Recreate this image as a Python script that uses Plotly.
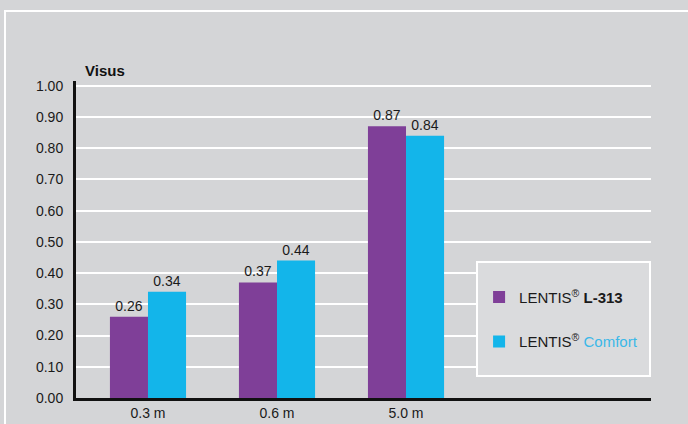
import plotly.graph_objects as go

categories = ["0.3 m", "0.6 m", "5.0 m"]
l313_values = [0.26, 0.37, 0.87]
comfort_values = [0.34, 0.44, 0.84]
ytick_vals = [0.0, 0.1, 0.2, 0.3, 0.4, 0.5, 0.6, 0.7, 0.8, 0.9, 1.0]
ytick_text = ["0.00", "0.10", "0.20", "0.30", "0.40", "0.50", "0.60", "0.70", "0.80", "0.90", "1.00"]

FONT = "Liberation Sans Narrow, Arial Narrow, Liberation Sans, sans-serif"
PURPLE = "#7f3f98"
CYAN = "#13b5ea"
BG = "#d4d5d7"

fig = go.Figure()
fig.add_trace(go.Bar(
    x=categories, y=l313_values, name="LENTIS<sup>®</sup> <b>L-313</b>",
    marker=dict(color=PURPLE, line=dict(width=0)),
    texttemplate="%{y:.2f}", textposition="outside",
    textfont=dict(family=FONT, size=14, color="#1a1a1a"),
    legendgroup="a", cliponaxis=False,
))
fig.add_trace(go.Bar(
    x=categories, y=comfort_values,
    name="LENTIS<sup>®</sup> <span style='color:#3bb8e8;font-weight:300'>Comfort</span>",
    marker=dict(color=CYAN, line=dict(width=0)),
    texttemplate="%{y:.2f}", textposition="outside",
    textfont=dict(family=FONT, size=14, color="#1a1a1a"),
    legendgroup="b", cliponaxis=False,
))

fig.update_layout(
    width=688, height=424,
    margin=dict(l=76, r=37, t=81, b=26, pad=0, autoexpand=False),
    paper_bgcolor=BG, plot_bgcolor=BG,
    font=dict(family=FONT, size=14, color="#1a1a1a"),
    barmode="group", bargap=0.41, bargroupgap=0,
    showlegend=True,
    legend=dict(
        x=0.701, y=0.37, xanchor="left", yanchor="top",
        bgcolor="rgba(0,0,0,0)", borderwidth=0,
        font=dict(family=FONT, size=15, color="#1a1a1a"),
        tracegroupgap=22, traceorder="grouped",
    ),
    xaxis=dict(
        type="category", range=[-0.558, 3.899], automargin=False,
        showgrid=False, showline=True, linecolor="#111111", linewidth=3,
        ticks="", tickfont=dict(family=FONT, size=14, color="#1a1a1a"),
        zeroline=False,
    ),
    yaxis=dict(
        range=[0, 1.015], tickvals=ytick_vals, ticktext=ytick_text, automargin=False,
        showgrid=True, gridcolor="#ffffff", gridwidth=2,
        showline=True, linecolor="#111111", linewidth=3,
        ticks="", ticklabelstandoff=7,
        tickfont=dict(family=FONT, size=14, color="#1a1a1a"),
        zeroline=False,
    ),
    shapes=[
        # outer white frame
        dict(type="rect", xref="paper", yref="paper",
             x0=(5 - 76) / 575, x1=(700 - 76) / 575,
             y0=(398 - 440) / 317, y1=(398 - 11) / 317,
             line=dict(color="#ffffff", width=2), fillcolor="rgba(0,0,0,0)", layer="below"),
        # legend box
        dict(type="rect", xref="paper", yref="paper",
             x0=(477 - 76) / 575, x1=(650 - 76) / 575,
             y0=(398 - 376) / 317, y1=(398 - 262) / 317,
             line=dict(color="#ffffff", width=2), fillcolor="#dadbdd", layer="above"),
    ],
    annotations=[
        dict(text="<b>Visus</b>", xref="paper", yref="paper",
             x=(83 - 76) / 575, y=(398 - 71) / 317, xanchor="left", yanchor="middle",
             showarrow=False, font=dict(family=FONT, size=15, color="#111111")),
    ],
)

fig.write_html(
    "out.html",
    config={"displayModeBar": False},
    post_script="document.body.style.margin='0';document.body.style.background='%s';" % BG,
)
